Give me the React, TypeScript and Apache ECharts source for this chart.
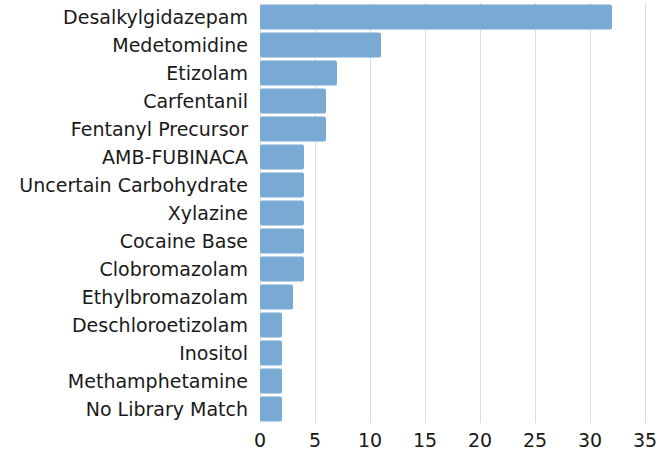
import React, { useEffect, useRef } from "react";
import * as echarts from "echarts";

const categories = [
  "Desalkylgidazepam",
  "Medetomidine",
  "Etizolam",
  "Carfentanil",
  "Fentanyl Precursor",
  "AMB-FUBINACA",
  "Uncertain Carbohydrate",
  "Xylazine",
  "Cocaine Base",
  "Clobromazolam",
  "Ethylbromazolam",
  "Deschloroetizolam",
  "Inositol",
  "Methamphetamine",
  "No Library Match",
];
const values = [32, 11, 7, 6, 6, 4, 4, 4, 4, 4, 3, 2, 2, 2, 2];
const xTicks = [0, 5, 10, 15, 20, 25, 30, 35];

export default function App() {
  const ref = useRef<HTMLDivElement>(null);
  useEffect(() => {
    if (!ref.current) return;
    const chart = echarts.init(ref.current, undefined, { renderer: "svg" });
    const font = "'DejaVu Sans', sans-serif";
    chart.setOption({
      animation: false,
      grid: { left: 260, right: 26, top: 3, bottom: 29, containLabel: false },
      xAxis: {
        type: "value",
        min: xTicks[0],
        max: xTicks[xTicks.length - 1],
        interval: 5,
        axisLine: { show: false },
        axisTick: { show: false },
        splitLine: { show: true, lineStyle: { color: "#dcdcdc", width: 1 } },
        axisLabel: { color: "#1a1a1a", fontSize: 19, fontFamily: font, margin: 7 },
      },
      yAxis: {
        type: "category",
        data: categories,
        inverse: true,
        axisLine: { show: false },
        axisTick: { show: false },
        splitLine: { show: false },
        axisLabel: { color: "#1a1a1a", fontSize: 19, fontFamily: font, margin: 12 },
      },
      series: [
        {
          type: "bar",
          data: values,
          barCategoryGap: "10%",
          itemStyle: {
            color: "#79aad3",
            borderRadius: 2,
          },
        },
      ],
    });
    return () => chart.dispose();
  }, []);
  return <div ref={ref} style={{ width: 671, height: 452, position: "absolute", left: 0, top: 0 }} />;
}
